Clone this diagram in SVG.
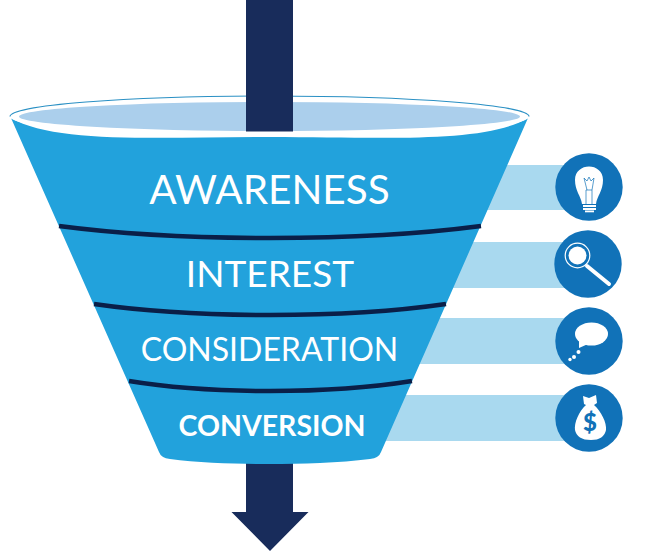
<svg xmlns="http://www.w3.org/2000/svg" width="663" height="558" viewBox="0 0 663 558">
<style>
.arrow{fill:#182c5b}
.band{fill:#a9d9ef}
.circle{fill:#1172b8}
.sep{fill:none;stroke:#0a1f48;stroke-width:4.5}
.icon{fill:#fff}
text{fill:#fff;font-family:Lato,"Open Sans","Liberation Sans",sans-serif;text-anchor:middle}
</style>
<rect width="663" height="558" fill="#fff"/>
<g id="bands">
<rect class="band" x="470" y="165" width="100" height="45"/>
<rect class="band" x="440" y="242" width="130" height="46"/>
<rect class="band" x="410" y="318" width="160" height="46"/>
<rect class="band" x="380" y="395" width="190" height="46"/>
</g>
<g id="connectors">
<path class="arrow" d="M246 455H293V512H308.500L270 551L231.500 512H246Z"/>
</g>
<g id="funnel">
<path d="M11 118C55 144 160 137 270 137C380 137 485 144 528 118L381 452Q379 458 370 459C340 463 300 464 270 464C240 464 200 463 170 459Q161 458 159 452Z" fill="#22a2dc"/>
<ellipse cx="269.500" cy="116.500" rx="259.500" ry="20.500" fill="#fff"/>
<path d="M10 116.500A259.500 20.500 0 0 1 529 116.500" fill="none" stroke="#2a90c4" stroke-width="1.200"/>
<ellipse cx="269.500" cy="116.500" rx="250.500" ry="14.500" fill="#abcfec"/>
<path class="arrow" d="M246 0H293V131.500H246Z"/>
<path class="sep" d="M59 226Q150 238 270 238Q390 238 481 226"/>
<path class="sep" d="M94 304Q170 315 270 315Q370 315 446 304"/>
<path class="sep" d="M129 381Q190 391 270 391Q350 391 412 381"/>
</g>
<g id="awareness"><text x="269.500" y="204" font-size="40.500">AWARENESS</text></g>
<g id="interest"><text x="270" y="287" font-size="37">INTEREST</text></g>
<g id="consideration"><text x="269.500" y="361" font-size="32">CONSIDERATION</text></g>
<g id="conversion"><text x="272" y="436" font-size="28.500" font-weight="700">CONVERSION</text></g>
<g id="icon-bulb">
<circle class="circle" cx="589" cy="187" r="33.700"/>
<path class="icon" d="M582 204C581 196 575 191 575 180C575 162 603 162 603 180C603 191 597 196 596 204Z"/>
<rect class="icon" x="583" y="205" width="13" height="2"/>
<rect class="icon" x="583" y="208" width="13" height="2"/>
<rect class="icon" x="585" y="210.500" width="9" height="1.800"/>
<path d="M586 204V190H592V204M587 190L584 178L587 181L589 177L591 181L594 178L592 190" fill="none" stroke="#1172b8" stroke-width=".7"/>
</g>
<g id="icon-magnifier">
<circle class="circle" cx="588" cy="264" r="33.700"/>
<circle cx="577.500" cy="255.500" r="12.300" fill="none" stroke="#fff" stroke-width="1.200"/>
<circle class="icon" cx="577.500" cy="255.500" r="9"/>
<path d="M587 266L609 284" fill="none" stroke="#fff" stroke-width="4" stroke-linecap="round"/>
</g>
<g id="icon-speech">
<circle class="circle" cx="589" cy="341" r="33.700"/>
<ellipse class="icon" cx="591.500" cy="334" rx="16.500" ry="11.500"/>
<path class="icon" d="M579 340L579 348L588 344Z"/>
<circle class="icon" cx="578.500" cy="352" r="2"/>
<circle class="icon" cx="574" cy="357" r="2"/>
<circle class="icon" cx="570" cy="359.500" r="1.700"/>
</g>
<g id="icon-money">
<circle class="circle" cx="589" cy="418" r="33.700"/>
<path class="icon" d="M584 404L583 396L589 398L596 395L597 403L594 405C601 411 607 423 606 430Q604 440 591 440Q577 440 575 430C574 423 579 411 586 405Z"/>
<text x="590" y="431" font-size="24" font-weight="900" style="fill:#1172b8">$</text>
</g>
</svg>
